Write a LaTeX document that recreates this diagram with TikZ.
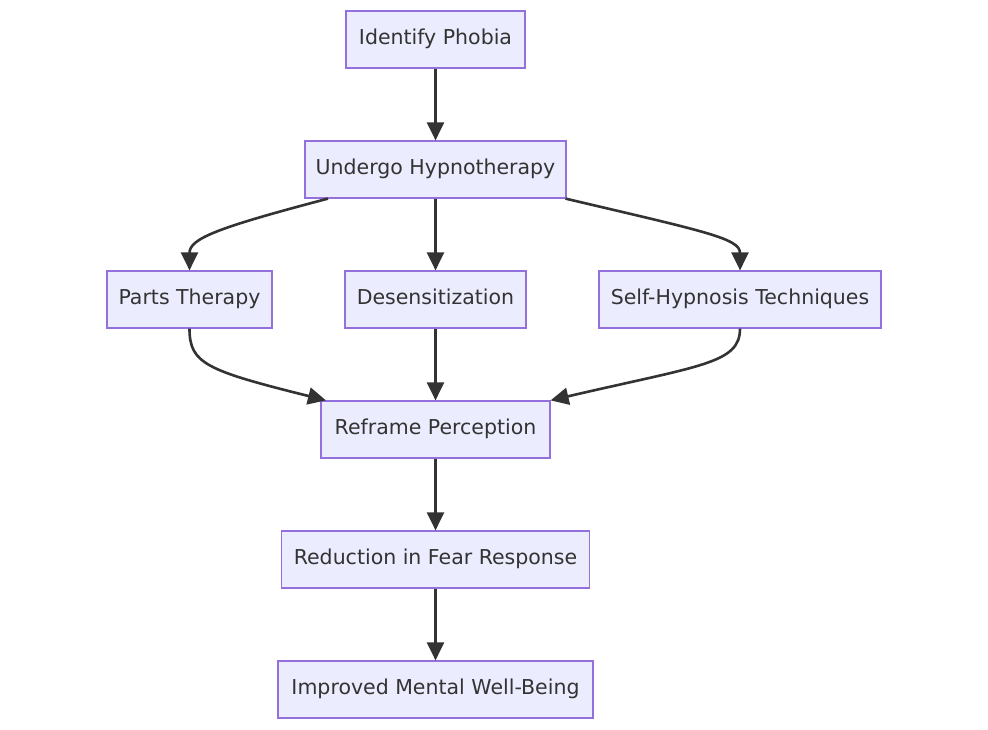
\documentclass[tikz,border=0pt]{standalone}
\usepackage{fontspec}
\setmainfont{DejaVu Sans}
\usepackage{tikz}
\usetikzlibrary{arrows.meta}
\usepackage{xcolor}
\definecolor{boxfill}{HTML}{ECECFF}
\definecolor{boxline}{HTML}{9370DB}
\definecolor{ink}{HTML}{333333}

\begin{document}
\begin{tikzpicture}[x=1pt,y=1pt,font=\fontsize{20.5}{24}\selectfont,>={Triangle[length=18pt,width=17pt]},line width=2.6pt,every node/.style={draw=boxline,fill=boxfill,line width=1.2pt,text=ink,minimum height=57pt,inner sep=0pt,text height=15pt,text depth=4.5pt}]
\useasboundingbox (0,0) rectangle (988,-730);
\node[minimum width=179pt](id) at (435.5,-39.5){Identify Phobia};
\node[minimum width=261pt](hyp) at (435.5,-169.5){Undergo Hypnotherapy};
\node[minimum width=165pt](parts) at (189.5,-299.5){Parts Therapy};
\node[minimum width=181pt](des) at (435.5,-299.5){Desensitization};
\node[minimum width=282pt](self) at (740,-299.5){Self-Hypnosis Techniques};
\node[minimum width=229pt](ref) at (435.5,-429.5){Reframe Perception};
\node[minimum width=308pt](red) at (435.5,-559.5){Reduction in Fear Response};
\node[minimum width=315pt](imp) at (435.5,-689.5){Improved Mental Well-Being};
\draw[->,ink](id)--(hyp);\draw[->,ink](hyp)--(des);\draw[->,ink](des)--(ref);\draw[->,ink](ref)--(red);\draw[->,ink](red)--(imp);
\draw[->,ink]([xshift=-107.5pt]hyp.south) .. controls +(-110,-29) and +(0,32) .. (parts.north);
\draw[->,ink]([xshift=130pt]hyp.south) .. controls +(140,-33) and +(0,32) .. (self.north);
\draw[->,ink](parts.south) .. controls +(0,-35) and +(-120,30) .. ([xshift=-109.5pt]ref.north);
\draw[->,ink](self.south) .. controls +(0,-35) and +(150,35) .. (ref.north east);
\end{tikzpicture}
\end{document}
